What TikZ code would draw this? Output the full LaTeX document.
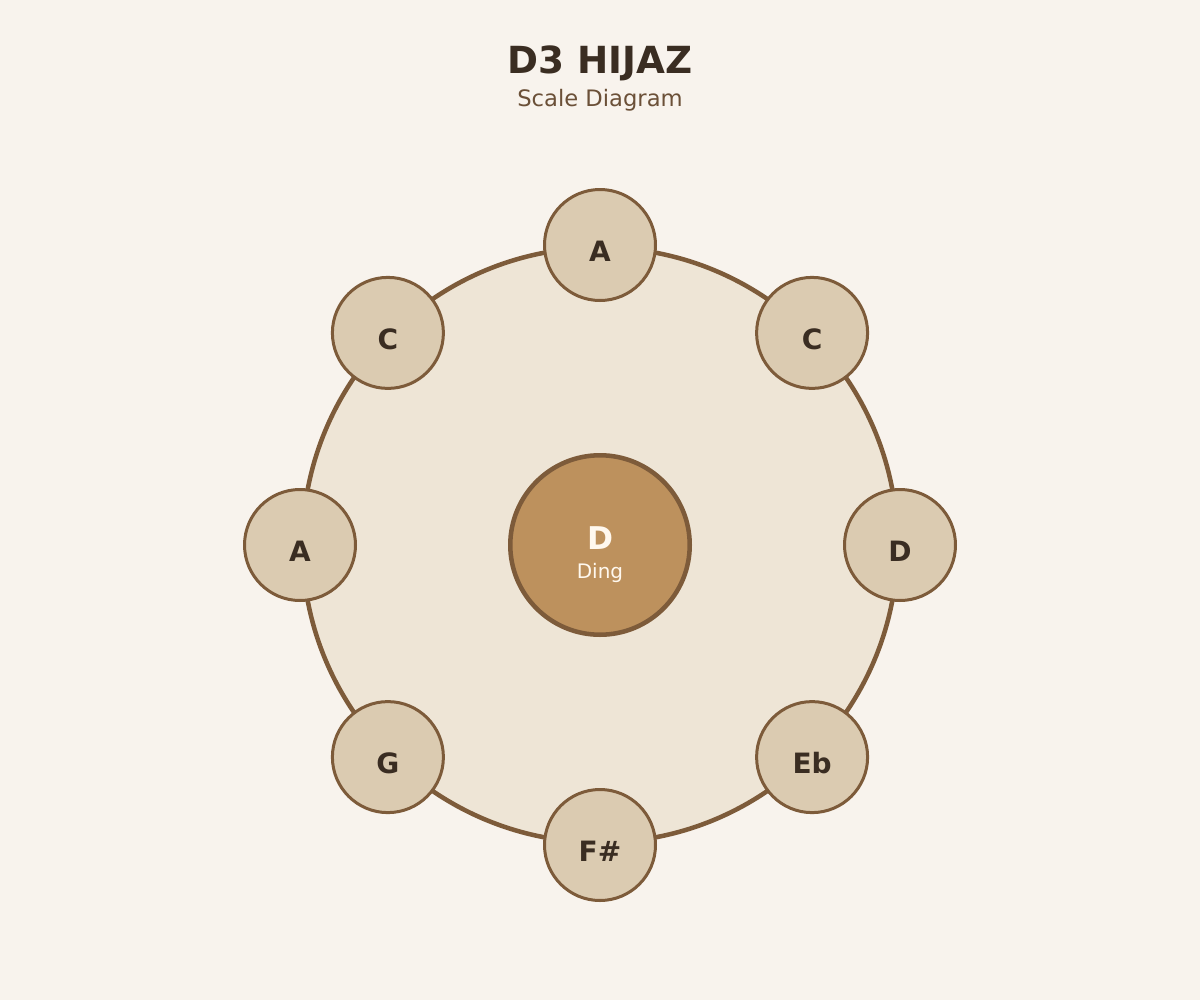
\documentclass[tikz,border=0pt]{standalone}
\usepackage{fontspec}
\setmainfont{DejaVu Sans}
\usepackage{tikz}
\usetikzlibrary{positioning}
\definecolor{paper}{HTML}{F8F3ED}
\definecolor{shell}{HTML}{EEE5D6}
\definecolor{rim}{HTML}{7D5B3A}
\definecolor{tonefill}{HTML}{DBCBB1}
\definecolor{dingfill}{HTML}{BD915D}
\definecolor{ink}{HTML}{3A2D22}
\definecolor{subink}{HTML}{6B5038}
\definecolor{dingink}{HTML}{FFF8EE}
\tikzset{
	x=0.75pt, y=-0.75pt,
	shellbody/.style ={circle, draw=rim, fill=shell, line width=3.4pt, minimum size=446.25pt, inner sep=0pt},
	ding/.style ={circle, draw=rim, fill=dingfill, line width=3.4pt, minimum size=134.6pt, inner sep=0pt},
	tone/.style ={circle, draw=rim, fill=tonefill, line width=2.25pt, minimum size=83.25pt, inner sep=0pt,
		text=ink, font=\bfseries\fontsize{21}{21}\selectfont, text height=24.3pt, text depth=0pt},
	dingtext/.style = {anchor=base, inner sep=0pt, text=dingink},
	heading/.style = {anchor=base, inner sep=0pt}
}

\begin{document}
\begin{tikzpicture}
    \fill[paper] (0,0) rectangle (1200,1000);
    \node[heading, text=ink, font=\bfseries\fontsize{28}{28}\selectfont] (title) at (600,73) {D3 HIJAZ};
    \node[heading, text=subink, font=\fontsize{17}{17}\selectfont] (subtitle) at (600,106) {Scale Diagram};

    \node[shellbody] (body) at (600,545) {};
    \node[ding] (ding) at (600,545) {};
    \node[dingtext, font=\bfseries\fontsize{23.5}{23.5}\selectfont] (dingnote) at (600,549) {D};
    \node[dingtext, font=\fontsize{15}{15}\selectfont] (dinglabel) at (600,578) {Ding};

    \node[tone] (top) at (600,245) {A};
    \node[tone] (upright) at (812.1,332.9) {C};
    \node[tone] (right) at (900,545) {D};
    \node[tone] (lowright) at (812.1,757.1) {Eb};
    \node[tone] (bottom) at (600,845) {F\#};
    \node[tone] (lowleft) at (387.9,757.1) {G};
    \node[tone] (left) at (300,545) {A};
    \node[tone] (upleft) at (387.9,332.9) {C};
\end{tikzpicture}
\end{document}
